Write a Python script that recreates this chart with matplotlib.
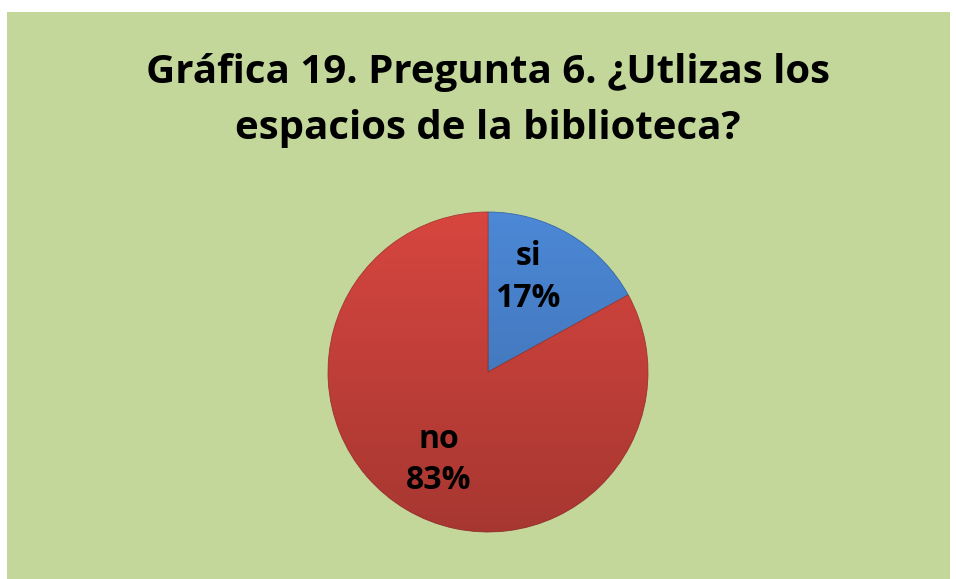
import matplotlib
matplotlib.use("Agg")
import matplotlib.pyplot as plt
import numpy as np
from matplotlib.patches import Circle

# data
labels = ["si", "no"]
values = [17, 83]
colors = ["#4C88D6", "#D6463F"]

fig = plt.figure(figsize=(9.56, 5.79), dpi=100)
fig.patch.set_facecolor("white")

# green chart area
bg = fig.add_axes([7 / 956, 0, 943 / 956, 567 / 579], zorder=-1)
bg.set_facecolor("#C4D79B")
bg.set_xticks([])
bg.set_yticks([])
for s in bg.spines.values():
    s.set_visible(False)

for i, line in enumerate(["Gráfica 19. Pregunta 6. ¿Utlizas los",
                          "espacios de la biblioteca?"]):
    fig.text(488 / 956, 1 - (72 + 56 * i) / 579, line,
             ha="center", va="center", fontsize=29, fontweight="bold",
             family="Open Sans")

ax = fig.add_axes([328 / 956, 47 / 579, 320 / 956, 320 / 579])
wedges, texts = ax.pie(values, colors=colors, startangle=90, counterclock=False,
                       wedgeprops=dict(edgecolor="#a83a36", linewidth=0.6))
wedges[0].set_edgecolor("#3a6aa8")

# soft shading, darker towards the bottom
shade = np.zeros((200, 2, 4))
shade[..., 3] = np.linspace(0.22, 0.0, 200)[:, None]
im = ax.imshow(shade, extent=(-1, 1, -1, 1), origin="lower", zorder=3,
               aspect="auto", interpolation="bilinear")
clip = Circle((0, 0), 1, transform=ax.transData)
im.set_clip_path(clip)

# label positions (axes data units)
label_xy = [(0.25, 0.59), (-0.31, -0.55)]
for (x, y), lab, v in zip(label_xy, labels, values):
    ax.text(x, y, f"{lab}\n{v}%", ha="center", va="center", fontsize=23,
            fontweight="bold", family="Open Sans", linespacing=1.35, zorder=5)

ax.set_xlim(-1, 1)
ax.set_ylim(-1, 1)
ax.set_aspect("equal")

fig.savefig("out.png", dpi=100)
